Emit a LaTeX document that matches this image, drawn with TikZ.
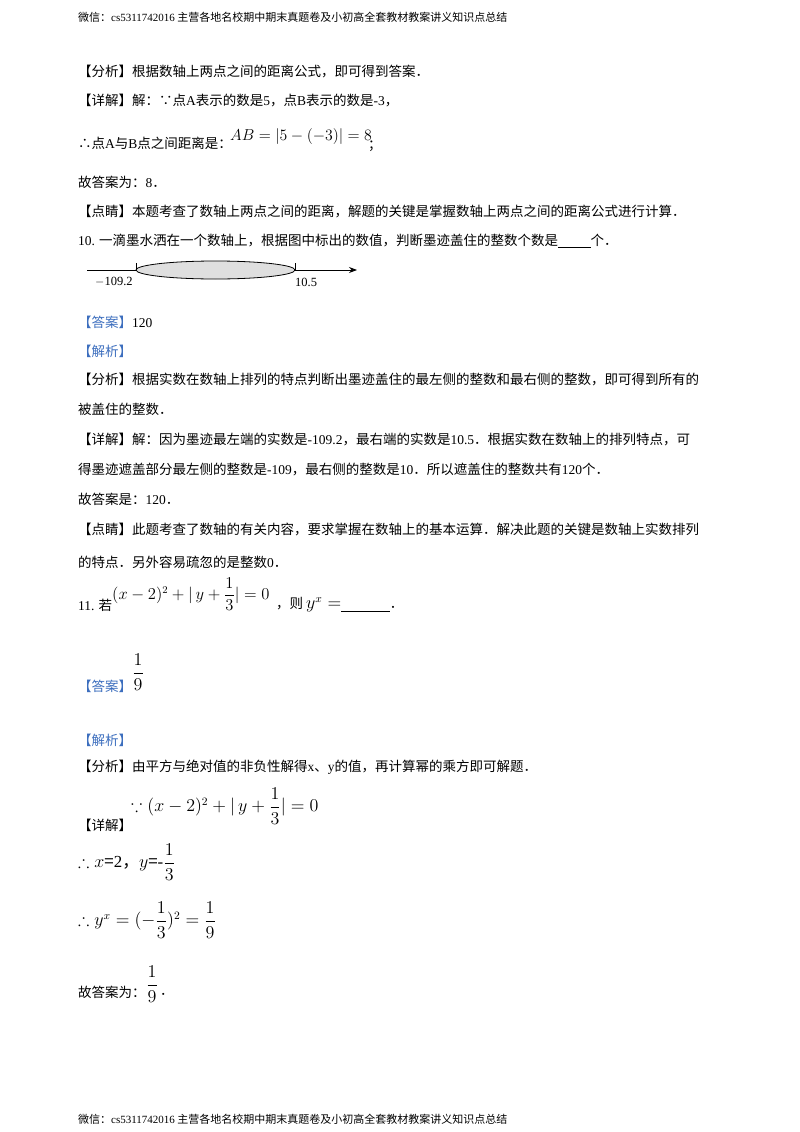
\documentclass[tikz,border=0pt]{standalone}
\usepackage{amsmath,amssymb,graphicx}
\usepackage{fontspec}
\setmainfont{Noto Sans CJK SC}
\newfontfamily\lser{Liberation Serif}
\usetikzlibrary{arrows.meta,shapes.geometric}
\definecolor{tagblue}{RGB}{60,110,190}
\tikzset{x=1pt,y=-1pt,
 t/.style={anchor=west,inner sep=0pt,font=\fontsize{13.5}{16}\selectfont},
 tm/.style={anchor=west,inner sep=0pt,font=\fontsize{13.5}{16}\selectfont},
 hd/.style={anchor=west,inner sep=0pt,font=\fontsize{11}{13}\selectfont}}
\newcommand{\bt}[1]{\textcolor{tagblue}{#1}}
\newcommand{\bm}[1]{\scalebox{1.25}{#1}}
\begin{document}
\begin{tikzpicture}
\useasboundingbox (0,0) rectangle (800,1132);
\fill[white] (0,0) rectangle (800,1132);
\node[hd] (h) at (78,17) {微信：{\lser cs5311742016} 主营各地名校期中期末真题卷及小初高全套教材教案讲义知识点总结};
\node[t] (a1) at (78,72) {【分析】根据数轴上两点之间的距离公式，即可得到答案．};
\node[t] (a2) at (78,101) {【详解】解：∵点{\lser A}表示的数是{\lser 5}，点{\lser B}表示的数是{\lser -3}，};
\node[t] (a3) at (78,143) {∴点{\lser A}与{\lser B}点之间距离是：};
\node[tm] (a3m) at (230,137) {\scalebox{1.1}{$AB=\left|5-(-3)\right|=8$}};
\node[t] (a3e) at (368,146) {；};
\node[t] (a4) at (78,182) {故答案为：{\lser 8}．};
\node[t] (a5) at (78,212) {【点睛】本题考查了数轴上两点之间的距离，解题的关键是掌握数轴上两点之间的距离公式进行计算．};
\node[t] (q10) at (78,241) {{\lser 10.} 一滴墨水洒在一个数轴上，根据图中标出的数值，判断墨迹盖住的整数个数是\underline{\hspace{2.4em}}个．};
\coordinate (nl0) at (87,270);
\coordinate (nl1) at (357,270);
\draw[line width=0.9pt,-{Stealth[length=8pt]}] (nl0) -- (nl1);
\node[draw,ellipse,fill=gray!25,minimum width=159pt,minimum height=18pt,inner sep=0pt,line width=0.8pt] (ink) at (215.5,270) {};
\draw (136,263) -- (136,270);
\draw (295,263) -- (295,270);
\node[t,font=\lser\fontsize{12.5}{14}\selectfont] (l1) at (95,282) {$-$109.2};
\node[t,font=\lser\fontsize{12.5}{14}\selectfont] (l2) at (295,282) {10.5};
\node[t] (b1) at (78,322) {\bt{【答案】}{\lser 120}};
\node[t] (b2) at (78,351) {\bt{【解析】}};
\node[t] (b3) at (78,380) {【分析】根据实数在数轴上排列的特点判断出墨迹盖住的最左侧的整数和最右侧的整数，即可得到所有的};
\node[t] (b4) at (78,409) {被盖住的整数．};
\node[t] (b5) at (78,440) {【详解】解：因为墨迹最左端的实数是{\lser -109.2}，最右端的实数是{\lser 10.5}．根据实数在数轴上的排列特点，可};
\node[t] (b6) at (78,469) {得墨迹遮盖部分最左侧的整数是{\lser -109}，最右侧的整数是{\lser 10}．所以遮盖住的整数共有{\lser 120}个．};
\node[t] (b7) at (78,499) {故答案是：{\lser 120}．};
\node[t] (b8) at (78,529) {【点睛】此题考查了数轴的有关内容，要求掌握在数轴上的基本运算．解决此题的关键是数轴上实数排列};
\node[t] (b9) at (78,562) {的特点．另外容易疏忽的是整数{\lser 0}．};
\node[t] (q11) at (78,605) {{\lser 11.} 若};
\node[tm] (q11m) at (112,594) {\scalebox{1.15}{$(x-2)^2+|\,y+\dfrac13|=0$}};
\node[t] (q11e) at (276,605) {，则 \bm{$y^x=$}\underline{\hspace{3.6em}}．};
\node[tm] (c1m) at (132,672) {\bm{$\dfrac19$}};
\node[t] (c1) at (78,686) {\bt{【答案】}};
\node[t] (c2) at (78,740) {\bt{【解析】}};
\node[t] (c3) at (78,767) {【分析】由平方与绝对值的非负性解得{\lser x}、{\lser y}的值，再计算幂的乘方即可解题．};
\node[t] (c4) at (78,825) {【详解】};
\node[tm] (c4m) at (131,806) {\bm{$\because(x-2)^2+|\,y+\dfrac13|=0$}};
\node[tm] (c5) at (78,862) {\bm{$\therefore x$={\lser 2}，$y$={\lser -}$\dfrac13$}};
\node[tm] (c6) at (78,920) {\bm{$\therefore y^x=(-\dfrac13)^2=\dfrac19$}};
\node[t] (c7) at (78,992) {故答案为：};
\node[tm] (c7m) at (146,984) {\bm{$\dfrac19$}};
\node[t] (c7e) at (160,994) {．};
\node[hd] (f) at (78,1119) {微信：{\lser cs5311742016} 主营各地名校期中期末真题卷及小初高全套教材教案讲义知识点总结};
\end{tikzpicture}
\end{document}
